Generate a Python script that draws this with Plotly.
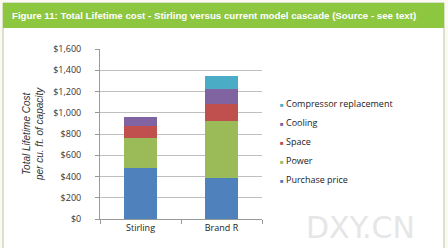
import plotly.graph_objects as go

categories = ["Stirling", "Brand R"]
series_names = ["Purchase price", "Power", "Space", "Cooling", "Compressor replacement"]
purchase_price = [480, 390]
power = [280, 530]
space = [120, 160]
cooling = [80, 140]
compressor = [0, 130]
colors = ["#4F81BD", "#9BBB59", "#C0504D", "#8064A2", "#4BACC6"]
tick_vals = [0, 200, 400, 600, 800, 1000, 1200, 1400, 1600]
tick_text = ["$0", "$200", "$400", "$600", "$800", "$1,000", "$1,200", "$1,400", "$1,600"]

series_values = [purchase_price, power, space, cooling, compressor]

fig = go.Figure()
for name, vals, col in zip(series_names, series_values, colors):
    fig.add_trace(go.Bar(x=categories, y=vals, name=name, marker_color=col,
                         marker_line_width=0, showlegend=False))

fig.update_layout(
    width=448, height=248,
    margin=dict(l=100, r=186, t=49, b=29),
    barmode="stack", bargap=0.6,
    paper_bgcolor="#FAFAF2", plot_bgcolor="white",
    font=dict(family="Open Sans, Liberation Sans, sans-serif", size=9, color="#333333"),
    showlegend=False,
    xaxis=dict(showline=True, linecolor="#999999", ticks="outside", tickcolor="#999999",
               ticklen=4, showgrid=False, tickson="boundaries", tickfont=dict(size=9, color="#222222")),
    yaxis=dict(range=[0, 1600], tickvals=tick_vals, ticktext=tick_text,
               showline=True, linecolor="#999999", ticks="outside", tickcolor="#999999", ticklen=4,
               ticklabelstandoff=12,
               showgrid=True, gridcolor="#BFBFBF", gridwidth=1, zeroline=False,
               tickfont=dict(size=9, color="#333333")),
)

# legend (top entry = last series)
for i, (name, col) in enumerate(zip(reversed(series_names), reversed(colors))):
    ypix = 103 + i * 19.2
    fig.add_annotation(xref="paper", yref="paper", x=(278 - 100) / 162, y=(219 - ypix) / 170,
                       xanchor="left", yanchor="middle", showarrow=False,
                       text=f"<span style='color:{col};font-size:6px'>■</span> {name}",
                       font=dict(size=9, color="#222222"))

# frame and banner
fig.add_shape(type="rect", xref="paper", yref="paper", x0=-97/162, x1=(444-100)/162,
              y0=(29-243)/170, y1=1 + (49-3)/170, line=dict(color="#B8C8A0", width=1),
              fillcolor="white", layer="below")
fig.add_shape(type="rect", xref="paper", yref="paper", x0=-97/162, x1=(444-100)/162,
              y0=1 + (49-28)/170, y1=1 + (49-3)/170, line=dict(width=0),
              fillcolor="#8DC63F", layer="below")
fig.add_annotation(xref="paper", yref="paper", x=-90/162, y=1 + (49-15.5)/170,
                   xanchor="left", yanchor="middle", showarrow=False,
                   text="<b>Figure 11: Total Lifetime cost - Stirling versus current model cascade (Source - see text)</b>",
                   font=dict(family="Liberation Sans, sans-serif", size=9.7, color="white"))
fig.add_annotation(xref="paper", yref="paper", x=-67/162, y=0.5, textangle=-90,
                   showarrow=False, xanchor="center", yanchor="middle",
                   text="<i>Total Lifetime Cost<br>per cu. ft. of capacity</i>",
                   font=dict(family="Liberation Sans, sans-serif", size=10, color="#333333"))
fig.add_annotation(xref="paper", yref="paper", x=(360-100)/162, y=(219-227)/170,
                   showarrow=False, xanchor="center", yanchor="middle",
                   text="DXY.CN", font=dict(family="DejaVu Sans, sans-serif", size=30, color="#E6E6E6"))

fig.write_html("out.html")
